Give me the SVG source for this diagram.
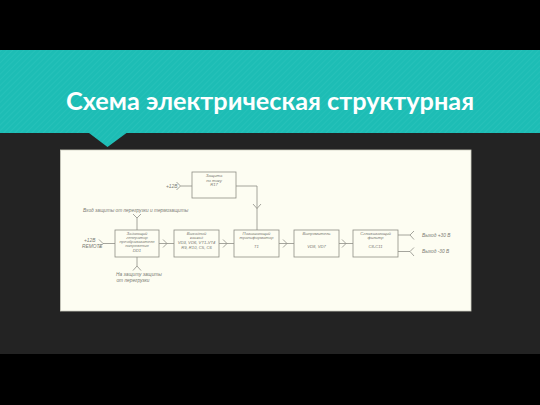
<svg xmlns="http://www.w3.org/2000/svg" width="540" height="405" viewBox="0 0 540 405">
<defs>
<pattern id="stripes" width="4" height="4" patternUnits="userSpaceOnUse" patternTransform="rotate(45)">
<rect width="4" height="4" fill="#1dbdb5"/>
<line x1="0" y1="0" x2="0" y2="4" stroke="#2cc4bc" stroke-width="1.2"/>
</pattern>
<style>
.box{fill:none;stroke:#8e8e86;stroke-width:0.8}
.ln{fill:none;stroke:#8e8e86;stroke-width:0.8}
.t{font-family:"Liberation Sans",Arial,sans-serif;font-style:italic;font-size:4.2px;fill:#7a7a72;text-anchor:middle}
.tl{font-family:"Liberation Sans",Arial,sans-serif;font-style:italic;font-size:4.8px;fill:#7a7a72}
</style>
</defs>
<rect x="0" y="0" width="540" height="405" fill="#000"/>
<rect x="0" y="133" width="540" height="221" fill="#232323"/>
<path d="M0,50 H540 V133 H126.5 L107.5,147 L89,133 H0 Z" fill="url(#stripes)"/>
<text x="270" y="110" font-family="Lato,'Open Sans','DejaVu Sans',sans-serif" font-weight="bold" font-size="25" fill="#fff" text-anchor="middle" textLength="408" lengthAdjust="spacingAndGlyphs">Схема электрическая структурная</text>
<rect x="60.5" y="150" width="410.5" height="161" fill="#fdfdf2" stroke="#cfcfc2" stroke-width="0.8"/>

<g id="connectors">
<path class="ln" d="M176.5,182 L180.5,186 L176.5,190 M180.5,186 H192"/>
<path class="ln" d="M236,186 H257 V230 M253,204 L257,208.5 L261,204"/>
<path class="ln" d="M133,214 L137,218 L141,214 M137,218 V230"/>
<path class="ln" d="M99,239.5 L103,243.5 L99,247.5 M103,243.5 H115"/>
<path class="ln" d="M137,257 V266 M133,270.5 L137,266 L141,270.5"/>
<path class="ln" d="M159,243.5 H174 M163,239.5 L167,243.5 L163,247.5"/>
<path class="ln" d="M219,243.5 H234 M223,239.5 L227,243.5 L223,247.5"/>
<path class="ln" d="M279,243.5 H294 M283,239.5 L287,243.5 L283,247.5"/>
<path class="ln" d="M339,243.5 H353 M342,239.5 L346,243.5 L342,247.5"/>
<path class="ln" d="M398,235 H410 M414,231 L410,235 L414,239.5"/>
<path class="ln" d="M398,251.5 H410 M414,247.5 L410,251.5 L414,256"/>
</g>

<g id="current-protection">
<rect class="box" x="192" y="172" width="44" height="26"/>
<text class="t" x="214" y="177">Защита</text>
<text class="t" x="214" y="181.5">по току</text>
<text class="t" x="214" y="186">R17</text>
</g>
<g id="label-12v">
<text class="tl" x="166" y="188">+12В</text>
</g>
<g id="label-protection-in">
<text class="tl" x="83" y="212">Вход  защиты от перегрузки и термозащиты</text>
</g>
<g id="label-remote">
<text class="tl" x="84" y="241.5">+12В</text>
<text class="tl" x="82" y="247.5">REMOTE</text>
</g>
<g id="label-protection-out">
<text class="t" x="139" y="276" style="font-size:4.8px">На защиту защиты</text>
<text class="t" x="133" y="282" style="font-size:4.8px">от перегрузки</text>
</g>
<g id="generator">
<rect class="box" x="115" y="230" width="44" height="27"/>
<text class="t" x="137" y="234.5">Задающий</text>
<text class="t" x="137" y="238.8">генератор</text>
<text class="t" x="137" y="243.1">преобразователя</text>
<text class="t" x="137" y="247.4">напряжения</text>
<text class="t" x="137" y="251.7">DD1</text>
</g>
<g id="output-stage">
<rect class="box" x="174" y="230" width="45" height="27"/>
<text class="t" x="196.5" y="234.5">Выходной</text>
<text class="t" x="196.5" y="238.8">каскад</text>
<text class="t" x="196.5" y="244">VD3, VD6, VT1-VT4</text>
<text class="t" x="196.5" y="248.5">R9, R10, C5, C6</text>
</g>
<g id="transformer">
<rect class="box" x="234" y="230" width="45" height="27"/>
<text class="t" x="256.5" y="234.5">Повышающий</text>
<text class="t" x="256.5" y="238.8">трансформатор</text>
<text class="t" x="256.5" y="247.5">T1</text>
</g>
<g id="rectifier">
<rect class="box" x="294" y="230" width="45" height="27"/>
<text class="t" x="316.5" y="234.5">Выпрямитель</text>
<text class="t" x="316.5" y="247.5">VD8, VD7</text>
</g>
<g id="filter">
<rect class="box" x="353" y="230" width="45" height="27"/>
<text class="t" x="375.5" y="234.5">Сглаживающий</text>
<text class="t" x="375.5" y="238.8">фильтр</text>
<text class="t" x="375.5" y="247.5">C8-C11</text>
</g>
<g id="outputs">
<text class="tl" x="422" y="236.5">Выход +30 В</text>
<text class="tl" x="422" y="253">Выход -30 В</text>
</g>
</svg>
